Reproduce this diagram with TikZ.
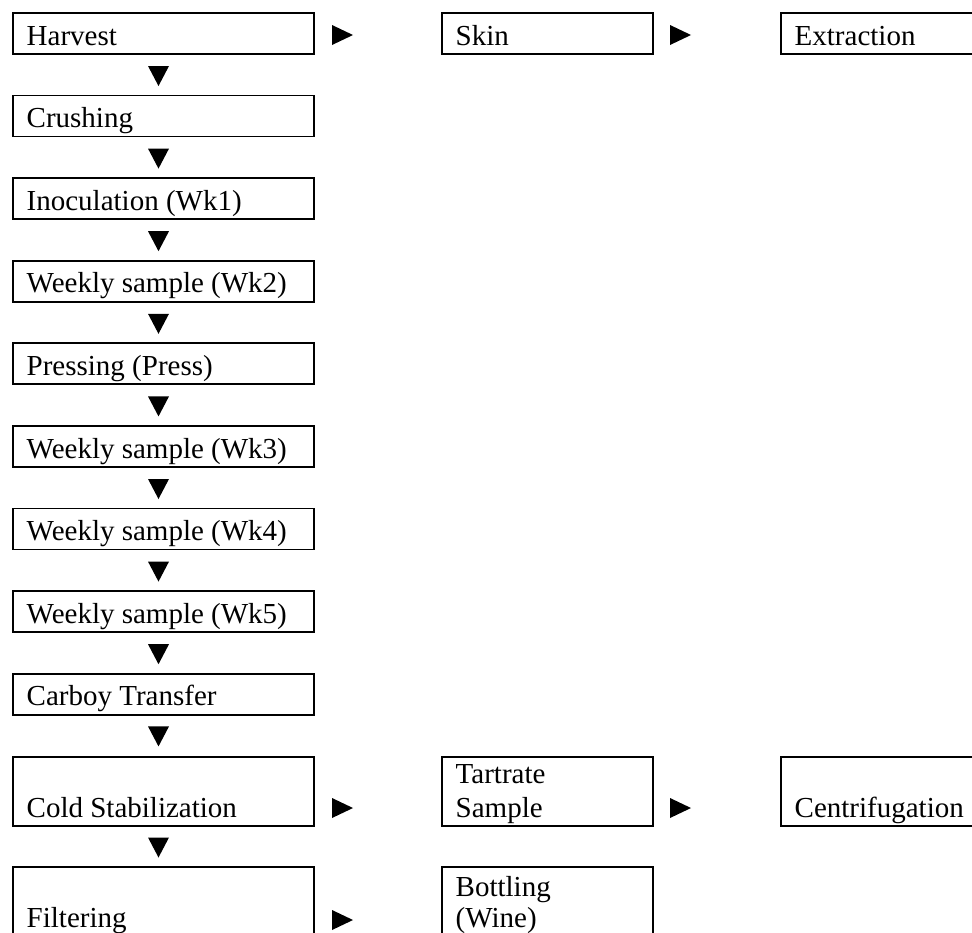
\documentclass[tikz,border=0pt]{standalone}
\usepackage{fontspec}
\setmainfont{Liberation Serif}
\begin{document}
\begin{tikzpicture}[x=1pt,y=1pt,
  box/.style={draw, line width=1.8pt, anchor=north west, inner sep=0pt, minimum width=301pt, minimum height=41pt},
  sbox/.style={box, minimum width=211pt},
  lbl/.style={anchor=base west, inner sep=0pt, font=\fontsize{29}{33}\selectfont, align=left},
  pics/dtri/.style={code={\fill (-10.5,10) -- (10.5,10) -- (0,-10) -- cycle;}},
  pics/rtri/.style={code={\fill (-10.5,10) -- (10.5,0) -- (-10.5,-10) -- cycle;}}]
\useasboundingbox (0,0) rectangle (972,-932);
\clip (0,0) rectangle (972,-932);
% left column
\node[box] (harvest) at (12,-12) {};
\node[box] (crush) at (12,-94.6) {};
\node[box] (inoc) at (12,-177.2) {};
\node[box] (wk2) at (12,-259.8) {};
\node[box] (press) at (12,-342.4) {};
\node[box] (wk3) at (12,-425) {};
\node[box] (wk4) at (12,-507.6) {};
\node[box] (wk5) at (12,-590.2) {};
\node[box] (carboy) at (12,-672.8) {};
\node[box, minimum height=69pt] (cold) at (12,-756) {};
\node[box, minimum height=110pt] (filter) at (12,-866) {};
% right boxes
\node[sbox] (skin) at (441,-12) {};
\node[sbox] (extr) at (780,-12) {};
\node[sbox, minimum height=69pt] (tart) at (441,-756) {};
\node[sbox, minimum height=69pt] (centr) at (780,-756) {};
\node[sbox, minimum height=110pt] (bottl) at (441,-866) {};
% labels
\node[lbl] (tharvest) at (26.5,-45) {Harvest};
\node[lbl] (tcrush) at (26.5,-127.6) {Crushing};
\node[lbl] (tinoc) at (26.5,-210.2) {Inoculation (Wk1)};
\node[lbl] (twk2) at (26.5,-292.8) {Weekly sample (Wk2)};
\node[lbl] (tpress) at (26.5,-375.4) {Pressing (Press)};
\node[lbl] (twk3) at (26.5,-458) {Weekly sample (Wk3)};
\node[lbl] (twk4) at (26.5,-540.6) {Weekly sample (Wk4)};
\node[lbl] (twk5) at (26.5,-623.2) {Weekly sample (Wk5)};
\node[lbl] (tcarboy) at (26.5,-705.8) {Carboy Transfer};
\node[lbl] (tcold) at (26.5,-817) {Cold Stabilization};
\node[lbl] (tfilter) at (26.5,-927) {Filtering};
\node[lbl] (tskin) at (455.5,-45) {Skin};
\node[lbl] (textr) at (794.5,-45) {Extraction};
\node[lbl, font=\fontsize{29}{34}\selectfont] (ttart) at (455.5,-817) {Tartrate\\Sample};
\node[lbl] (tcentr) at (794.5,-817) {Centrifugation};
\node[lbl, font=\fontsize{29}{31}\selectfont] (tbottl) at (455.5,-927) {Bottling\\(Wine)};
% down triangles
\pic (d1) at (158.5,-76) {dtri};
\pic (d2) at (158.5,-158.6) {dtri};
\pic (d3) at (158.5,-241.2) {dtri};
\pic (d4) at (158.5,-323.8) {dtri};
\pic (d5) at (158.5,-406.4) {dtri};
\pic (d6) at (158.5,-489) {dtri};
\pic (d7) at (158.5,-571.6) {dtri};
\pic (d8) at (158.5,-654.2) {dtri};
\pic (d9) at (158.5,-736.4) {dtri};
\pic (d10) at (158.5,-847.5) {dtri};
% right triangles
\pic (r1) at (342.5,-35) {rtri};
\pic (r2) at (680.5,-35) {rtri};
\pic (r3) at (342.5,-808) {rtri};
\pic (r4) at (680.5,-808) {rtri};
\pic (r5) at (342.5,-920) {rtri};
\end{tikzpicture}
\end{document}
